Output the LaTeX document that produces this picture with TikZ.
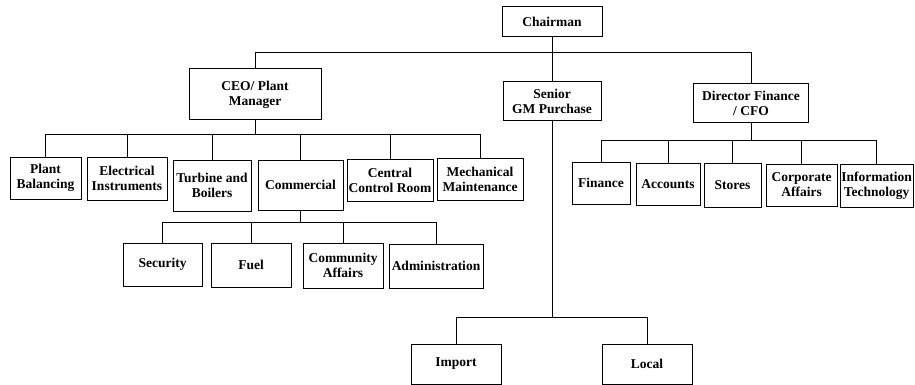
\documentclass[tikz,border=0pt]{standalone}
\usepackage{fontspec}
\setmainfont{Liberation Serif}
\begin{document}
\begin{tikzpicture}[x=1pt,y=-1pt,
  box/.style={draw, line width=1pt, align=center, inner sep=0pt,
    font=\fontsize{13.5}{15}\selectfont\bfseries},
  conn/.style={line width=1pt}]
\useasboundingbox (0,0) rectangle (915,385);
% level 0-1
\node[box, minimum width=100, minimum height=30] (chair) at (552,22) {Chairman};
\node[box, minimum width=132, minimum height=51] (ceo) at (255,94.5) {CEO/ Plant\\Manager};
\node[box, minimum width=98, minimum height=39] (gm) at (552,101.5) {Senior\\GM Purchase};
\node[box, minimum width=115, minimum height=39] (cfo) at (751,103.5) {Director Finance\\/ CFO};
% CEO children
\node[box, minimum width=71, minimum height=42] (pb) at (45.5,178) {Plant\\Balancing};
\node[box, minimum width=80, minimum height=43] (ei) at (127,178.5) {Electrical\\Instruments};
\node[box, minimum width=78, minimum height=51] (tb) at (212,185.5) {Turbine and\\Boilers};
\node[box, minimum width=85, minimum height=50] (com) at (300.5,185) {Commercial};
\node[box, minimum width=86, minimum height=42] (ccr) at (390,180) {Central\\Control Room};
\node[box, minimum width=86, minimum height=42] (mm) at (480,179) {Mechanical\\Maintenance};
% Commercial children
\node[box, minimum width=79, minimum height=43] (sec) at (162.5,264.5) {Security};
\node[box, minimum width=80, minimum height=44] (fuel) at (251,265) {Fuel};
\node[box, minimum width=80, minimum height=45] (ca) at (343,265.5) {Community\\Affairs};
\node[box, minimum width=94, minimum height=44] (adm) at (436,266) {Administration};
% GM children
\node[box, minimum width=90, minimum height=40] (imp) at (456,364) {Import};
\node[box, minimum width=90, minimum height=40] (loc) at (647,364) {Local};
% CFO children
\node[box, minimum width=58, minimum height=42] (fin) at (601,183) {Finance};
\node[box, minimum width=64, minimum height=42] (acc) at (668,184) {Accounts};
\node[box, minimum width=57, minimum height=44] (sto) at (732.5,185) {Stores};
\node[box, minimum width=71, minimum height=42] (cor) at (801.5,185) {Corporate\\Affairs};
\node[box, minimum width=73, minimum height=43] (it) at (876.5,185.5) {Information\\Technology};
% connectors
\coordinate (b1) at (552,53);
\coordinate (b2) at (255,135);
\coordinate (b3) at (300.5,222);
\coordinate (b4) at (552,317);
\coordinate (b5) at (751,140);
\draw[conn] (chair) -- (gm);
\draw[conn] (b1) -| (ceo);
\draw[conn] (b1) -| (cfo);
\draw[conn] (ceo) -- (b2);
\foreach \n in {pb,ei,tb,com,ccr,mm} \draw[conn] (b2) -| (\n);
\draw[conn] (com) -- (b3);
\foreach \n in {sec,fuel,ca,adm} \draw[conn] (b3) -| (\n);
\draw[conn] (gm) -- (b4);
\foreach \n in {imp,loc} \draw[conn] (b4) -| (\n);
\draw[conn] (cfo) -- (b5);
\foreach \n in {fin,acc,sto,cor,it} \draw[conn] (b5) -| (\n);
\end{tikzpicture}
\end{document}
